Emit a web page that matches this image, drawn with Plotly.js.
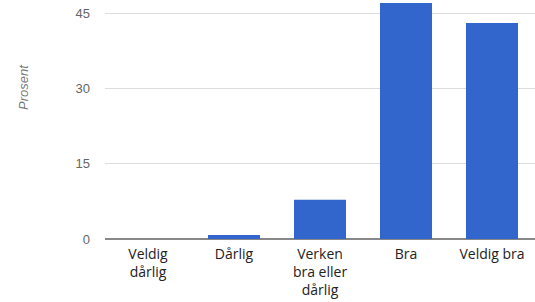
<!DOCTYPE html>
<html>
<head>
<meta charset="utf-8">
<script src="https://cdn.plot.ly/plotly-3.0.1.min.js"></script>
<style>html,body{margin:0;padding:0;background:#fff}#chart{width:535px;height:302px}</style>
</head>
<body>
<div id="chart"></div>
<script>
const categories = ["Veldig<br>dårlig", "Dårlig", "Verken<br>bra eller<br>dårlig", "Bra", "Veldig bra"];
const values = [0, 0.8, 7.8, 47, 43];
const yTicks = [0, 15, 30, 45];
const yTitle = "Prosent";

const trace = {
  type: "bar",
  x: categories,
  y: values,
  marker: {color: "#3366cc"},
  hoverinfo: "none"
};

const layout = {
  width: 535,
  height: 302,
  margin: {l: 105, r: 0, t: 0, b: 63},
  paper_bgcolor: "#fff",
  plot_bgcolor: "#fff",
  bargap: 0.395,
  showlegend: false,
  xaxis: {
    type: "category",
    showgrid: false,
    showline: false,
    zeroline: false,
    ticks: "",
    ticklabelstandoff: 5,
    tickfont: {family: "Open Sans, sans-serif", size: 14, color: "#222"},
    automargin: false
  },
  yaxis: {
    range: [0, 47.6],
    tickvals: yTicks,
    ticktext: yTicks.map(String),
    showgrid: true,
    gridcolor: "#dddddd",
    gridwidth: 1,
    zeroline: true,
    zerolinecolor: "#888888",
    zerolinewidth: 2,
    showline: false,
    ticks: "",
    ticklabelstandoff: 14,
    tickfont: {family: "Liberation Sans, Arial, sans-serif", size: 13, color: "#666"},
    automargin: false
  },
  annotations: [{
    text: "<i>" + yTitle + "</i>",
    xref: "paper", yref: "paper",
    x: (23.5 - 105) / 430, y: (239 - 87.5) / 239,
    xanchor: "center", yanchor: "middle",
    textangle: -90,
    showarrow: false,
    font: {family: "Liberation Sans, Arial, sans-serif", size: 13, color: "#777"}
  }]
};

Plotly.newPlot("chart", [trace], layout, {staticPlot: true, displayModeBar: false});
</script>
</body>
</html>
